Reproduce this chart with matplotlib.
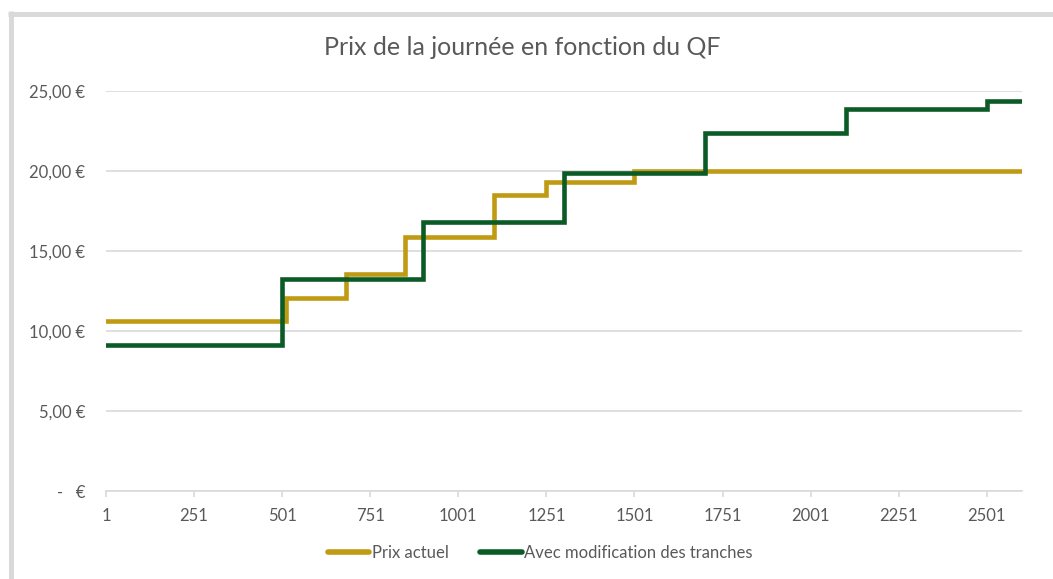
import matplotlib
matplotlib.use('Agg')
import matplotlib.pyplot as plt
import matplotlib.ticker as ticker
from matplotlib.lines import Line2D

font = {'size': 12, 'family': ['Lato', 'DejaVu Sans']}
plt.rc('font', **font)

# data: tranche starts (QF) and daily price
qf_actuel = [1, 511, 681, 851, 1101, 1251, 1501]
prix_actuel = [10.63, 12.04, 13.54, 15.90, 18.50, 19.29, 20.00]

qf_nouveau = [1, 501, 901, 1301, 1701, 2101, 2501]
prix_nouveau = [9.12, 13.23, 16.83, 19.85, 22.35, 23.87, 24.40]

qf_max = 2600
xticks = [1, 251, 501, 751, 1001, 1251, 1501, 1751, 2001, 2251, 2501]
yticks = [0, 5, 10, 15, 20, 25]

GOLD = '#BF9A12'
GREEN = '#0B5B26'
GRID = '#D9D9D9'
TXT = '#595959'

fig = plt.figure(figsize=(10.53, 5.79), dpi=100)
ax = fig.add_axes([106/1053, 88/579, (1022-106)/1053, 400/579])

# outer chart border (top and left visible)
fig.add_artist(Line2D([8/1053, 1], [1-13.5/579]*2, transform=fig.transFigure,
                      color=GRID, lw=3.6, solid_capstyle='butt'))
fig.add_artist(Line2D([10.5/1053]*2, [0, 1-11/579], transform=fig.transFigure,
                      color=GRID, lw=3.6, solid_capstyle='butt'))

ax.step(qf_actuel + [qf_max], prix_actuel + [prix_actuel[-1]], where='post',
        color=GOLD, lw=3.3, label='Prix actuel', solid_joinstyle='miter')
ax.step(qf_nouveau + [qf_max], prix_nouveau + [prix_nouveau[-1]], where='post',
        color=GREEN, lw=3.3, label='Avec modification des tranches',
        solid_joinstyle='miter')

ax.set_xlim(1, qf_max + 1)
ax.set_ylim(0, 25)

for s in ['top', 'right', 'left']:
    ax.spines[s].set_visible(False)
ax.spines['bottom'].set_color(GRID)
ax.spines['bottom'].set_linewidth(1.2)

ax.yaxis.grid(True, color=GRID, lw=1.2)
ax.set_axisbelow(True)

def euro(v, pos):
    if v == 0:
        return '-   €'
    return f'{v:.2f}'.replace('.', ',') + ' €'

ax.xaxis.set_major_locator(ticker.FixedLocator(xticks))
ax.yaxis.set_major_locator(ticker.FixedLocator(yticks))
ax.yaxis.set_major_formatter(ticker.FuncFormatter(euro))

ax.tick_params(axis='x', colors=GRID, length=4, width=1.2, pad=8,
               labelcolor=TXT, labelsize=12)
ax.tick_params(axis='y', length=0, pad=15, labelcolor=TXT, labelsize=12)

fig.text(0.496, 0.918, 'Prix de la journée en fonction du QF',
         ha='center', va='center', fontsize=18, color=TXT)

leg = fig.legend(loc='center', bbox_to_anchor=(0.513, 0.045), ncol=2,
                 frameon=False, fontsize=12, handlelength=2.5,
                 handletextpad=0.15, columnspacing=1.9)
for t in leg.get_texts():
    t.set_color(TXT)
for h in leg.legend_handles:
    h.set_linewidth(4)
    h.set_solid_capstyle('round')

plt.savefig('out.png', dpi=100)
